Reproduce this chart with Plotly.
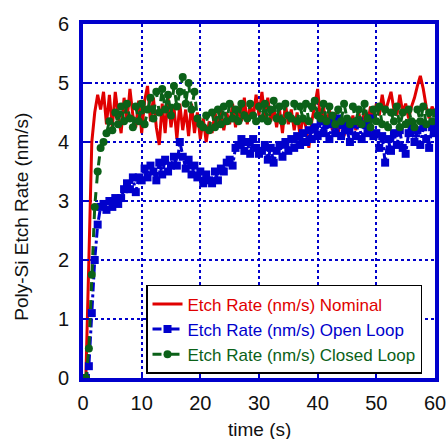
import plotly.graph_objects as go

time_s = [i * 0.5 for i in range(121)]

nominal = [0.0, 0.05, 2.0, 4.0, 4.5, 4.8, 4.55, 4.85, 4.3, 4.8, 4.25, 4.85, 4.45, 4.15, 4.75, 4.35, 4.9, 4.45, 4.25, 4.7,
           4.15, 4.7, 4.95, 4.35, 4.75, 4.25, 3.95, 4.65, 4.15, 4.75, 4.25, 4.6, 4.05, 4.65, 4.2, 4.55, 4.1, 4.65, 4.15, 4.5,
           4.05, 4.4, 4.0, 4.35, 4.15, 4.5, 4.25, 4.55, 4.2, 4.5, 4.3, 4.65, 4.25, 4.6, 4.35, 4.75, 4.3, 4.65, 4.4, 4.8,
           4.45, 4.85, 4.4, 4.75, 4.35, 4.6, 4.25, 4.55, 4.15, 4.65, 4.3, 4.55, 4.2, 4.5, 4.1, 4.45, 4.25, 3.9, 4.35, 4.65,
           4.9, 4.35, 4.6, 4.25, 4.55, 4.2, 4.5, 4.15, 4.4, 4.1, 4.35, 4.15, 4.45, 4.2, 4.5, 4.25, 4.55, 4.3, 4.6, 4.35,
           4.65, 4.45, 4.8, 4.5, 4.7, 4.85, 4.55, 4.45, 4.8, 4.5, 4.65, 4.4, 4.6, 4.75, 4.95, 5.12, 4.9, 4.6, 4.4, 4.6,
           4.5]

open_loop = [0.0, 0.0, 0.2, 1.1, 2.0, 2.6, 2.9, 2.95, 2.85, 3.0, 2.9, 3.05, 2.95, 3.05, 3.2, 3.3, 3.2, 3.4, 3.15, 3.4,
             3.35, 3.55, 3.4, 3.6, 3.5, 3.35, 3.65, 3.45, 3.7, 3.5, 3.6, 3.75, 3.6, 4.0, 3.75, 3.55, 3.7, 3.45, 3.6, 3.4,
             3.5, 3.3, 3.45, 3.35, 3.3, 3.5, 3.35, 3.55, 3.5, 3.65, 3.7, 3.6, 3.9, 3.95, 4.05, 3.85, 4.0, 3.8, 4.05, 3.9,
             3.8, 3.85, 3.95, 3.7, 3.9, 3.65, 3.85, 3.95, 3.75, 4.0, 3.85, 4.05, 3.9, 4.1, 3.95, 4.15, 4.0, 4.2, 4.05, 4.25,
             4.1, 4.35, 4.15, 4.3, 4.05, 4.35, 4.15, 4.4, 4.1, 4.3, 4.2, 4.0, 4.3, 4.1, 4.35, 4.05, 4.3, 4.15, 4.4, 4.1,
             4.15, 3.9, 4.1, 3.65, 4.05, 3.85, 4.15, 3.95, 4.2, 3.9, 3.8, 4.15, 4.25, 4.0, 4.2, 3.95, 4.25, 4.05, 3.9, 4.25,
             4.15]

closed_loop = [0.0, 0.0, 0.5, 1.75, 2.9, 3.5, 3.9, 4.0, 4.15, 4.35, 4.2, 4.5, 4.3, 4.6, 4.35, 4.65, 4.4, 4.25, 4.6, 4.35,
               4.65, 4.3, 4.55, 4.75, 4.4, 4.85, 4.5, 4.9, 4.55, 4.8, 4.45, 4.95, 4.6, 4.85, 5.1, 4.65, 5.0, 4.55, 4.85, 4.4,
               4.3, 4.25, 4.45, 4.2, 4.5, 4.25, 4.55, 4.3, 4.6, 4.35, 4.65, 4.4, 4.55, 4.35, 4.65, 4.45, 4.4, 4.65, 4.45, 4.35,
               4.6, 4.4, 4.65, 4.35, 4.55, 4.7, 4.4, 4.6, 4.35, 4.65, 4.45, 4.4, 4.65, 4.35, 4.6, 4.4, 4.65, 4.35, 4.6, 4.7,
               4.45, 4.4, 4.65, 4.35, 4.6, 4.45, 4.3, 4.55, 4.35, 4.65, 4.4, 4.3, 4.6, 4.35, 4.55, 4.3, 4.65, 4.4, 4.25, 4.55,
               4.35, 4.6, 4.3, 4.55, 4.25, 4.5, 4.35, 4.6, 4.25, 4.5, 4.3, 4.55, 4.35, 4.25, 4.55, 4.35, 4.6, 4.3, 4.5, 4.35,
               4.5]

x_ticks = [0, 10, 20, 30, 40, 50, 60]
y_ticks = [0, 1, 2, 3, 4, 5, 6]

RED = "#E00000"
BLUE = "#0000CC"
GREEN = "#0B6118"
FRAME = "#0000CC"
FONT = "Liberation Sans, Arial"

fig = go.Figure()
fig.add_trace(go.Scatter(
    x=time_s, y=nominal, mode="lines",
    name=f"<span style='color:{RED}'>Etch Rate (nm/s) Nominal</span>",
    line=dict(color=RED, width=3)))
fig.add_trace(go.Scatter(
    x=time_s, y=open_loop, mode="lines+markers",
    name=f"<span style='color:{BLUE}'>Etch Rate (nm/s) Open Loop</span>",
    line=dict(color=BLUE, width=3, dash="dashdot"),
    marker=dict(symbol="square", size=8, color=BLUE)))
fig.add_trace(go.Scatter(
    x=time_s, y=closed_loop, mode="lines+markers",
    name=f"<span style='color:{GREEN}'>Etch Rate (nm/s) Closed Loop</span>",
    line=dict(color=GREEN, width=3, dash="dash"),
    marker=dict(symbol="circle", size=8, color=GREEN)))

axis_common = dict(
    showline=True, linewidth=4, linecolor=FRAME, mirror=True,
    ticks="inside", tickcolor=FRAME, tickwidth=2, ticklen=6,
    showgrid=True, gridcolor=FRAME, gridwidth=1.5, griddash="dot",
    zeroline=False, automargin=False,
    tickfont=dict(family=FONT, size=20, color="#111111"),
)

fig.update_layout(
    width=448, height=439,
    margin=dict(l=83, r=13, t=24, b=61),
    paper_bgcolor="white", plot_bgcolor="white",
    font=dict(family=FONT, color="#111111"),
    showlegend=True,
    legend=dict(
        x=0.179, y=0.263, xanchor="left", yanchor="top",
        bgcolor="white", bordercolor="black", borderwidth=1.5,
        font=dict(family=FONT, size=17),
        tracegroupgap=0, itemwidth=30,
    ),
    xaxis=dict(range=[0, 60], tickvals=x_ticks, ticklabelstandoff=4, **axis_common),
    yaxis=dict(range=[0, 6], tickvals=y_ticks, ticklabelstandoff=6, **axis_common),
    annotations=[
        dict(text="time (s)", xref="paper", yref="paper", x=0.5, y=-0.145,
             xanchor="center", yanchor="middle", showarrow=False,
             font=dict(family=FONT, size=19, color="#111111")),
        dict(text="Poly-Si Etch Rate (nm/s)", xref="paper", yref="paper", x=-0.174, y=0.455,
             xanchor="center", yanchor="middle", showarrow=False, textangle=-90,
             font=dict(family=FONT, size=19, color="#111111")),
    ],
)

fig.write_html(
    "out.html",
    config={"displayModeBar": False},
    post_script="document.body.style.margin='0';document.body.style.overflow='hidden';",
)
